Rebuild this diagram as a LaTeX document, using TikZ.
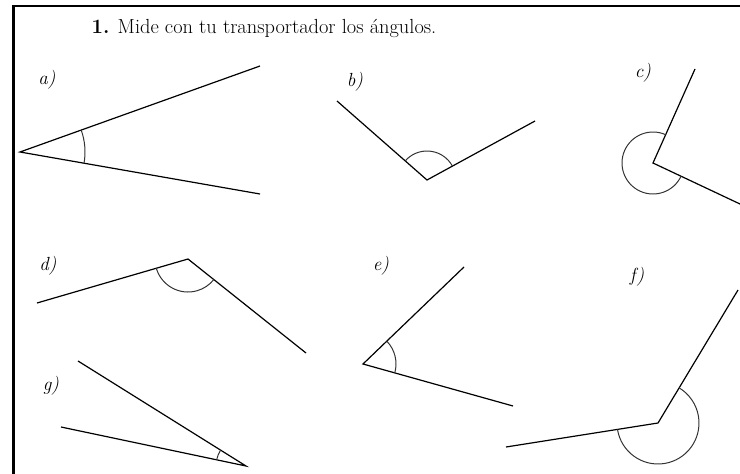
\documentclass[tikz,border=0pt]{standalone}
\usetikzlibrary{angles}

\begin{document}
\begin{tikzpicture}[x=1pt, y=-1pt, line width=1.2pt,
        arcmark/.style={draw, line width=1pt, black!80},
        lbl/.style={font=\itshape\fontsize{19}{22}\selectfont}]
        \useasboundingbox (0,0) rectangle (740,474);
        \draw[line width=2.3pt] (13.5,474) -- (13.5,6) -- (740,6);

        \node[anchor=base west, inner sep=0pt, font=\fontsize{20.4}{24}\selectfont] (title) at (91,33) {\textbf{1.} Mide con tu transportador los ángulos.};

        \coordinate (a) at (20,152); \coordinate (a1) at (260,66); \coordinate (a2) at (260,194);
        \draw (a1) -- (a) -- (a2);
        \pic[arcmark, angle radius=65pt] {angle=a2--a--a1};
        \node[lbl] (la) at (47,80) {a)};

        \coordinate (b) at (427,180); \coordinate (b1) at (337,101); \coordinate (b2) at (535,121);
        \draw (b1) -- (b) -- (b2);
        \pic[arcmark, angle radius=29pt] {angle=b2--b--b1};
        \node[lbl] (lb) at (355,82) {b)};

        \coordinate (c) at (653,163); \coordinate (c1) at (695,69); \coordinate (c2) at (740,204);
        \draw (c1) -- (c) -- (c2);
        \pic[arcmark, angle radius=31pt] {angle=c1--c--c2};
        \node[lbl] (lc) at (643,73) {c)};

        \coordinate (d) at (188,259); \coordinate (d1) at (37,303); \coordinate (d2) at (306,353);
        \draw (d1) -- (d) -- (d2);
        \pic[arcmark, angle radius=33pt] {angle=d1--d--d2};
        \node[lbl] (ld) at (48,266) {d)};

        \coordinate (e) at (363,364); \coordinate (e1) at (464,267); \coordinate (e2) at (513,406);
        \draw (e1) -- (e) -- (e2);
        \pic[arcmark, angle radius=33pt] {angle=e2--e--e1};
        \node[lbl] (le) at (381,266) {e)};

        \coordinate (f) at (658,423); \coordinate (f1) at (738,290); \coordinate (f2) at (506,447);
        \draw (f1) -- (f) -- (f2);
        \pic[arcmark, angle radius=41pt] {angle=f2--f--f1};
        \node[lbl] (lf) at (637,277) {f)};

        \coordinate (g) at (246,466); \coordinate (g1) at (78,361); \coordinate (g2) at (61,427);
        \draw (g1) -- (g) -- (g2);
        \pic[arcmark, angle radius=30pt] {angle=g1--g--g2};
        \node[lbl] (lg) at (51,386) {g)};
    \end{tikzpicture}
\end{document}
